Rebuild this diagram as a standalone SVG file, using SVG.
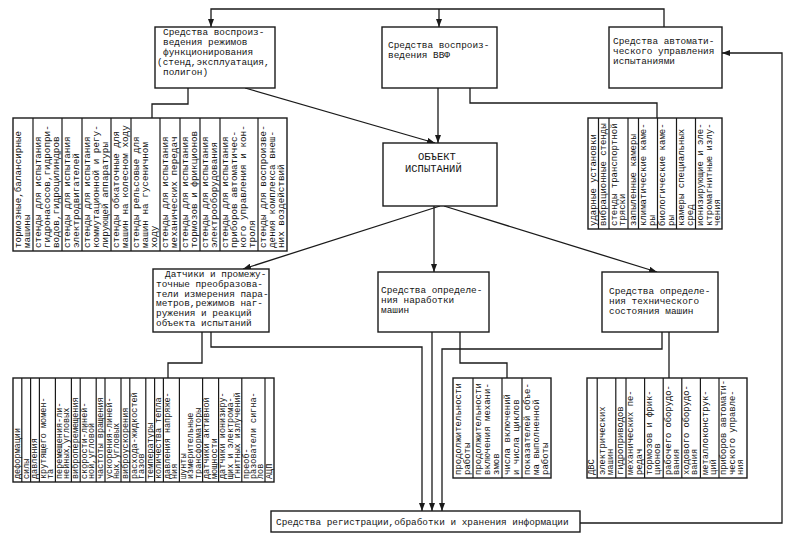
<svg xmlns="http://www.w3.org/2000/svg" width="795" height="548" viewBox="0 0 795 548">
<defs>
<marker id="ah" markerUnits="userSpaceOnUse" markerWidth="9" markerHeight="6" refX="8" refY="3" orient="auto">
<path d="M0,0 L8,3 L0,6 z" fill="#1a1a1a"/>
</marker>
<style>
.bx{fill:#fff;stroke:#1a1a1a;stroke-width:1.4}
.dv{stroke:#1a1a1a;stroke-width:1.2;fill:none}
.ln{stroke:#1a1a1a;stroke-width:1.3;fill:none}
.ar{marker-end:url(#ah)}
text{font-family:"Liberation Mono","DejaVu Sans Mono",monospace;fill:#141414}
.t{font-size:9.4px}
.o{font-size:10.5px}
.c1{font-size:9.3px}
.c2{font-size:9px}
.c3{font-size:8.5px}
</style>
</defs>
<rect width="795" height="548" fill="#fff"/>

<g id="connectors">
<polyline class="ln ar" points="664,27 664,9 211,9 211,27"/>
<line class="ln ar" x1="439" y1="9" x2="439" y2="27"/>
<polyline class="ln ar" points="580,523 782,523 782,53 722,53"/>
<polyline class="ln" points="188,88 188,104 152,104 152,118"/>
<line class="ln ar" x1="245" y1="88" x2="435" y2="143"/>
<line class="ln ar" x1="438" y1="88" x2="438" y2="143"/>
<polyline class="ln" points="470,88 470,103 657,103 657,118"/>
<line class="ln ar" x1="440" y1="206" x2="243" y2="269"/>
<line class="ln ar" x1="434" y1="206" x2="434" y2="272"/>
<line class="ln ar" x1="444" y1="206" x2="657" y2="272"/>
<polyline class="ln" points="202,332 202,363 168,363 168,378"/>
<polyline class="ln ar" points="211,332 211,347 422,347 422,511"/>
<line class="ln ar" x1="432" y1="332" x2="432" y2="511"/>
<polyline class="ln" points="460,332 460,363 507,363 507,378"/>
<polyline class="ln ar" points="662,332 662,349 442,349 442,511"/>
<line class="ln" x1="669" y1="332" x2="669" y2="378"/>
</g>

<g id="box-modes">
<rect class="bx" x="155" y="27" width="120" height="61"/>
<text class="t"><tspan x="163" y="34.5">Средства воспроиз-</tspan><tspan x="163" y="44.5">ведения режимов</tspan><tspan x="163" y="54.5">функционирования</tspan><tspan x="157" y="64.5">(стенд,эксплуатация,</tspan><tspan x="163" y="74.5">полигон)</tspan></text>
</g>

<g id="box-vvf">
<rect class="bx" x="382" y="27" width="115" height="61"/>
<text class="t"><tspan x="388" y="48">Средства воспроиз-</tspan><tspan x="388" y="58">ведения ВВФ</tspan></text>
</g>

<g id="box-auto">
<rect class="bx" x="609" y="27" width="113" height="61"/>
<text class="t"><tspan x="613" y="44">Средства автомати-</tspan><tspan x="613" y="54">ческого управления</tspan><tspan x="613" y="64">испытаниями</tspan></text>
</g>

<g id="block-stands">
<rect class="bx" x="13" y="118" width="274" height="133"/>
<path class="dv" d="M33,118V251M62,118V251M82,118V251M111,118V251M131,118V251M160,118V251M180,118V251M200,118V251M220,118V251M258,118V251"/>
<text class="c1" transform="translate(21,248) rotate(-90)"><tspan x="0" y="0">тормозные,балансирные</tspan><tspan x="0" y="9">машины</tspan></text>
<text class="c1" transform="translate(41,248) rotate(-90)"><tspan x="0" y="0">стенды для испытания</tspan><tspan x="0" y="9">гидронасосов,гидропри-</tspan><tspan x="0" y="18">водов,гидроцилиндров</tspan></text>
<text class="c1" transform="translate(70,248) rotate(-90)"><tspan x="0" y="0">стенды для испытания</tspan><tspan x="0" y="9">электродвигателей</tspan></text>
<text class="c1" transform="translate(90,248) rotate(-90)"><tspan x="0" y="0">стенды для испытания</tspan><tspan x="0" y="9">коммутационной и регу-</tspan><tspan x="0" y="18">лирующей аппаратуры</tspan></text>
<text class="c1" transform="translate(119,248) rotate(-90)"><tspan x="0" y="0">стенды обкаточные для</tspan><tspan x="0" y="9">машин на колесном ходу</tspan></text>
<text class="c1" transform="translate(139,248) rotate(-90)"><tspan x="0" y="0">стенды рельсовые для</tspan><tspan x="0" y="9">машин на гусеничном</tspan><tspan x="0" y="18">ходу</tspan></text>
<text class="c1" transform="translate(168,248) rotate(-90)"><tspan x="0" y="0">стенды для испытания</tspan><tspan x="0" y="9">механических передач</tspan></text>
<text class="c1" transform="translate(188,248) rotate(-90)"><tspan x="0" y="0">стенды для испытания</tspan><tspan x="0" y="9">тормозов и фрикционов</tspan></text>
<text class="c1" transform="translate(208,248) rotate(-90)"><tspan x="0" y="0">стенды для испытания</tspan><tspan x="0" y="9">электрооборудования</tspan></text>
<text class="c1" transform="translate(228,248) rotate(-90)"><tspan x="0" y="0">стенды для испытания</tspan><tspan x="0" y="9">приборов автоматичес-</tspan><tspan x="0" y="18">кого управления и кон-</tspan><tspan x="0" y="27">троля</tspan></text>
<text class="c1" transform="translate(266,248) rotate(-90)"><tspan x="0" y="0">стенды для воспроизве-</tspan><tspan x="0" y="9">дения комплекса внеш-</tspan><tspan x="0" y="18">них воздействий</tspan></text>
</g>

<g id="block-vvf">
<rect class="bx" x="588" y="118" width="134" height="111"/>
<path class="dv" d="M598.5,118V229M609,118V229M628,118V229M638.5,118V229M657.5,118V229M676.5,118V229M695.5,118V229"/>
<text class="c2" transform="translate(595.5,226) rotate(-90)"><tspan x="0" y="0">ударные установки</tspan></text>
<text class="c2" transform="translate(606,226) rotate(-90)"><tspan x="0" y="0">вибрационные стенды</tspan></text>
<text class="c2" transform="translate(616.5,226) rotate(-90)"><tspan x="0" y="0">стенды транспортной</tspan><tspan x="0" y="8.5">тряски</tspan></text>
<text class="c2" transform="translate(635.5,226) rotate(-90)"><tspan x="0" y="0">запыленные камеры</tspan></text>
<text class="c2" transform="translate(646,226) rotate(-90)"><tspan x="0" y="0">климатические каме-</tspan><tspan x="0" y="8.5">ры</tspan></text>
<text class="c2" transform="translate(665,226) rotate(-90)"><tspan x="0" y="0">биологические каме-</tspan><tspan x="0" y="8.5">ры</tspan></text>
<text class="c2" transform="translate(684,226) rotate(-90)"><tspan x="0" y="0">камеры специальных</tspan><tspan x="0" y="8.5">сред</tspan></text>
<text class="c2" transform="translate(703,226) rotate(-90)"><tspan x="0" y="0">ионизирующие и эле-</tspan><tspan x="0" y="8.5">ктромагнитные излу-</tspan><tspan x="0" y="17">чения</tspan></text>
</g>

<g id="box-object">
<rect class="bx" x="383" y="143" width="114" height="63"/>
<text class="o"><tspan x="418" y="160">ОБЪЕКТ</tspan><tspan x="405" y="172">ИСПЫТАНИЙ</tspan></text>
</g>

<g id="box-sensors">
<rect class="bx" x="153" y="269" width="116" height="63"/>
<text class="t"><tspan x="165" y="277">Датчики и промежу-</tspan><tspan x="156" y="286.8">точные преобразова-</tspan><tspan x="156" y="296.6">тели измерения пара-</tspan><tspan x="156" y="306.4">метров,режимов наг-</tspan><tspan x="156" y="316.2">ружения и реакций</tspan><tspan x="156" y="326">объекта испытаний</tspan></text>
</g>

<g id="box-runtime">
<rect class="bx" x="378" y="272" width="111" height="60"/>
<text class="t"><tspan x="381" y="293">Средства определе-</tspan><tspan x="381" y="303">ния наработки</tspan><tspan x="381" y="313">машин</tspan></text>
</g>

<g id="box-state">
<rect class="bx" x="602" y="272" width="116" height="60"/>
<text class="t"><tspan x="609" y="294">Средства определе-</tspan><tspan x="609" y="304">ния технического</tspan><tspan x="609" y="314">состояния машин</tspan></text>
</g>

<g id="block-measure">
<rect class="bx" x="13" y="378" width="261" height="104"/>
<path class="dv" d="M21.8,378V482M30.6,378V482M39.4,378V482M55.4,378V482M71.4,378V482M80.2,378V482M96.2,378V482M105,378V482M121,378V482M129.8,378V482M145.8,378V482M154.6,378V482M163.4,378V482M179.4,378V482M202.6,378V482M218.6,378V482M241.8,378V482M265,378V482"/>
<text class="c3" transform="translate(19.8,479) rotate(-90)">деформации</text>
<text class="c3" transform="translate(28.6,479) rotate(-90)">силы</text>
<text class="c3" transform="translate(37.4,479) rotate(-90)">давления</text>
<text class="c3" transform="translate(46.2,479) rotate(-90)"><tspan x="0" y="0">крутящего момен-</tspan><tspan x="0" y="7.2">та</tspan></text>
<text class="c3" transform="translate(62.2,479) rotate(-90)"><tspan x="0" y="0">перемещения-ли-</tspan><tspan x="0" y="7.2">нейных,угловых</tspan></text>
<text class="c3" transform="translate(78.2,479) rotate(-90)">виброперемещения</text>
<text class="c3" transform="translate(87,479) rotate(-90)"><tspan x="0" y="0">скорости-линей-</tspan><tspan x="0" y="7.2">ной,угловой</tspan></text>
<text class="c3" transform="translate(103,479) rotate(-90)">частоты вращения</text>
<text class="c3" transform="translate(111.8,479) rotate(-90)"><tspan x="0" y="0">ускорения-линей-</tspan><tspan x="0" y="7.2">ных,угловых</tspan></text>
<text class="c3" transform="translate(127.8,479) rotate(-90)">виброускорения</text>
<text class="c3" transform="translate(136.6,479) rotate(-90)"><tspan x="0" y="0">расхода-жидкостей</tspan><tspan x="0" y="7.2">газов</tspan></text>
<text class="c3" transform="translate(152.6,479) rotate(-90)">температуры</text>
<text class="c3" transform="translate(161.4,479) rotate(-90)">количества тепла</text>
<text class="c3" transform="translate(170.2,479) rotate(-90)"><tspan x="0" y="0">давления напряже-</tspan><tspan x="0" y="7.2">ния</tspan></text>
<text class="c3" transform="translate(186.2,479) rotate(-90)"><tspan x="0" y="0">шунты</tspan><tspan x="0" y="7.2">измерительные</tspan><tspan x="0" y="14.4">трансформаторы</tspan></text>
<text class="c3" transform="translate(209.4,479) rotate(-90)"><tspan x="0" y="0">датчики активной</tspan><tspan x="0" y="7.2">мощности</tspan></text>
<text class="c3" transform="translate(225.4,479) rotate(-90)"><tspan x="0" y="0">датчики ионизиру-</tspan><tspan x="0" y="7.2">щих и электрома-</tspan><tspan x="0" y="14.4">гнитных излучений</tspan></text>
<text class="c3" transform="translate(248.6,479) rotate(-90)"><tspan x="0" y="0">преоб-</tspan><tspan x="0" y="7.2">разователи сигна-</tspan><tspan x="0" y="14.4">лов</tspan></text>
<text class="c3" transform="translate(271.8,479) rotate(-90)">АЦП</text>
</g>

<g id="block-runtime">
<rect class="bx" x="453" y="378" width="98" height="100"/>
<path class="dv" d="M473,378V478M502,378V478M522,378V478"/>
<text class="c2" transform="translate(461,475) rotate(-90)"><tspan x="0" y="0">продолжительности</tspan><tspan x="0" y="9">работы</tspan></text>
<text class="c2" transform="translate(481,475) rotate(-90)"><tspan x="0" y="0">продолжительности</tspan><tspan x="0" y="9">включения механи-</tspan><tspan x="0" y="18">змов</tspan></text>
<text class="c2" transform="translate(510,475) rotate(-90)"><tspan x="0" y="0">числа включений</tspan><tspan x="0" y="9">и числа циклов</tspan></text>
<text class="c2" transform="translate(530,475) rotate(-90)"><tspan x="0" y="0">показателей объе-</tspan><tspan x="0" y="9">ма выполненной</tspan><tspan x="0" y="18">работы</tspan></text>
</g>

<g id="block-state">
<rect class="bx" x="587" y="378" width="160" height="100"/>
<path class="dv" d="M597.2,378V478M615.8,378V478M626,378V478M644.6,378V478M663.2,378V478M681.8,378V478M700.4,378V478M719,378V478"/>
<text class="c2" style="font-size:8.8px" transform="translate(594.3,475) rotate(-90)">ДВС</text>
<text class="c2" style="font-size:8.8px" transform="translate(604.5,475) rotate(-90)"><tspan x="0" y="0">электрических</tspan><tspan x="0" y="8.4">машин</tspan></text>
<text class="c2" style="font-size:8.8px" transform="translate(623.1,475) rotate(-90)">гидроприводов</text>
<text class="c2" style="font-size:8.8px" transform="translate(633.3,475) rotate(-90)"><tspan x="0" y="0">механических пе-</tspan><tspan x="0" y="8.4">редач</tspan></text>
<text class="c2" style="font-size:8.8px" transform="translate(651.9,475) rotate(-90)"><tspan x="0" y="0">тормозов и фрик-</tspan><tspan x="0" y="8.4">ционов</tspan></text>
<text class="c2" style="font-size:8.8px" transform="translate(670.5,475) rotate(-90)"><tspan x="0" y="0">рабочего оборудо-</tspan><tspan x="0" y="8.4">вания</tspan></text>
<text class="c2" style="font-size:8.8px" transform="translate(689.1,475) rotate(-90)"><tspan x="0" y="0">ходового оборудо-</tspan><tspan x="0" y="8.4">вания</tspan></text>
<text class="c2" style="font-size:8.8px" transform="translate(707.7,475) rotate(-90)"><tspan x="0" y="0">металлоконструк-</tspan><tspan x="0" y="8.4">ций</tspan></text>
<text class="c2" style="font-size:8.8px" transform="translate(726.3,475) rotate(-90)"><tspan x="0" y="0">приборов автомати-</tspan><tspan x="0" y="8.4">ческого управле-</tspan><tspan x="0" y="16.8">ния</tspan></text>
</g>

<g id="box-registration">
<rect class="bx" x="271" y="511" width="309" height="21"/>
<text class="t"><tspan x="276" y="525">Средства регистрации,обработки и хранения информации</tspan></text>
</g>
</svg>
